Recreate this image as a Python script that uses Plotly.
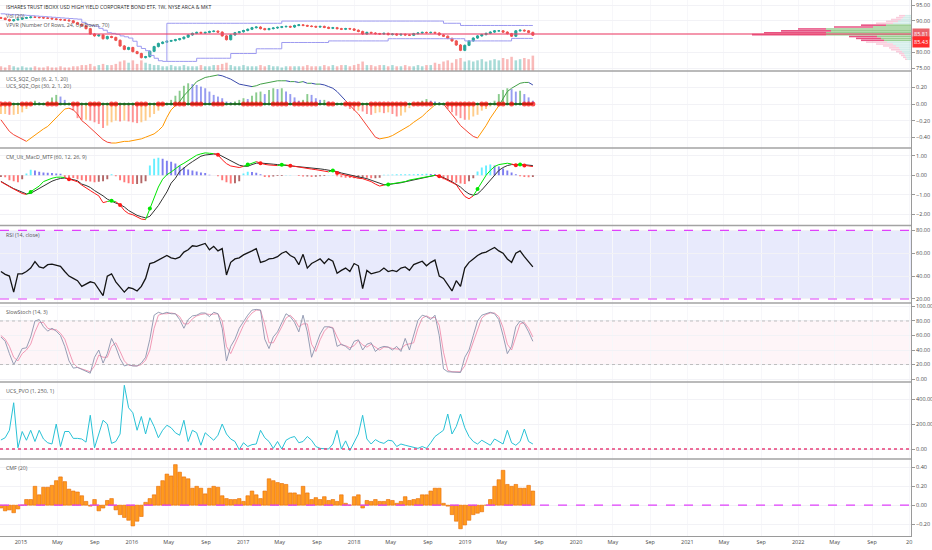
import pandas as pd
import plotly.graph_objects as go

N = 126
dates = pd.date_range("2014-10-27", periods=N, freq="14D")

title_text = "ISHARES TRUST IBOXX USD HIGH YIELD CORPORATE BOND ETF, 1W, NYSE ARCA & MKT"

close = [90.8, 90.4, 90.0, 90.3, 90.5, 90.8, 91.0, 91.2, 91.1, 91.0,
         90.9, 90.8, 90.6, 90.4, 90.3, 90.2, 90.0, 89.4, 88.9, 88.4,
         87.5, 85.8, 85.2, 85.5, 84.3, 85.0, 84.7, 83.8, 82.0, 80.9,
         81.5, 80.2, 79.6, 78.3, 78.6, 80.3, 81.8, 82.8, 83.2, 83.5,
         83.7, 84.0, 84.3, 84.8, 85.5, 86.0, 86.3, 86.1, 86.3, 86.6,
         86.7, 86.4, 85.2, 84.0, 85.5, 86.2, 86.5, 86.9, 87.3, 87.8,
         88.0, 87.5, 87.2, 87.5, 87.7, 87.9, 88.1, 88.2, 88.0, 88.5,
         88.7, 88.5, 88.3, 88.2, 88.0, 88.2, 87.9, 87.6, 87.8, 87.5,
         87.3, 87.5, 87.4, 87.0, 86.6, 85.8, 86.3, 86.1, 85.9, 85.8,
         86.0, 85.6, 85.8, 85.5, 85.7, 85.5, 85.4, 85.9, 86.1, 86.3,
         86.2, 86.3, 86.1, 85.5, 85.1, 84.4, 83.6, 82.3, 80.6, 82.2,
         83.6, 84.5, 85.2, 85.6, 86.0, 86.4, 86.8, 86.8, 86.4, 85.9,
         85.1, 86.8, 87.0, 86.8, 86.3, 85.43]

volume = [4, 3, 5, 4, 3, 4, 3, 3, 4, 3,
          3, 4, 3, 3, 4, 3, 3, 4, 4, 5,
          5, 6, 4, 5, 6, 5, 5, 6, 8, 9,
          7, 9, 6, 9, 7, 6, 5, 5, 4, 4,
          5, 4, 4, 5, 4, 4, 4, 5, 4, 4,
          5, 5, 6, 7, 5, 4, 4, 5, 4, 4,
          4, 5, 4, 5, 4, 4, 3, 4, 4, 4,
          4, 4, 5, 4, 4, 4, 5, 4, 5, 4,
          5, 5, 4, 5, 6, 8, 5, 5, 4, 5,
          5, 4, 5, 4, 4, 5, 4, 4, 5, 4,
          5, 5, 7, 6, 8, 9, 7, 10, 11, 8,
          9, 8, 9, 10, 8, 9, 10, 9, 11, 10,
          12, 9, 10, 11, 10, 13]

poc_price = 85.81
last_price = 85.43

price_ticks = [75, 80, 90, 95]

vp_price = [77.8, 78.4, 79.0, 79.6, 80.2, 80.8, 81.4, 82.0, 82.6, 83.2, 83.8, 84.4,
            85.0, 85.6, 86.2, 86.8, 87.4, 88.0, 88.6, 89.2, 89.8, 90.4, 91.0, 91.6]
vp_up = [4, 5, 6, 7, 9, 11, 12, 15, 18, 24, 27, 30,
         34, 85, 85, 80, 85, 38, 25, 18, 13, 10, 8, 6]
vp_down = [2, 3, 4, 5, 6, 9, 10, 13, 17, 21, 23, 25,
           28, 74, 62, 50, 28, 39, 25, 17, 12, 10, 7, 6]

band_a = [92.3, 92.2, 92.1, 92.0, 91.9, 91.8, 91.8, 91.7, 91.6, 91.5,
          91.4, 91.3, 91.2, 91.1, 91.0, 90.9, 90.8, 90.7, 90.6, 90.5,
          89.5, 88.8, 88.5, 88.3, 87.6, 87.0, 86.2, 86.0, 85.7, 85.2,
          84.9, 84.5, 83.5, 81.9, 81.2, 80.5, 79.0, 78.1, 77.3, 77.1,
          77.1, 77.1, 77.1, 77.1, 77.1, 77.1, 77.1, 78.1, 78.1, 78.1,
          78.1, 78.1, 78.1, 78.1, 78.1, 79.6, 79.6, 79.6, 79.6, 79.6,
          79.6, 81.1, 81.1, 81.1, 81.1, 81.1, 81.1, 83.1, 83.1, 83.1,
          83.1, 83.1, 83.1, 83.1, 83.1, 83.1, 83.1, 83.1, 83.6, 83.6,
          83.6, 83.6, 83.6, 83.6, 83.6, 83.6, 83.6, 83.6, 83.6, 83.6,
          83.6, 83.6, 84.3, 84.3, 84.3, 84.3, 84.3, 84.3, 84.3, 84.3,
          84.3, 84.3, 84.3, 84.3, 84.3, 84.3, 84.3, 84.3, 84.3, 84.3,
          83.6, 83.6, 83.6, 83.6, 83.6, 83.6, 83.6, 83.6, 83.6, 83.6,
          83.6, 84.4, 84.4, 84.4, 84.4, 84.4]
band_b = [None] * 39 + [77.1] + [89.2] * 27 + [89.9] * 38 + [89.2] * 4 + [88.5] * 17

sqz_hist = [-0.12, -0.12, -0.13, -0.13, -0.12, -0.10, -0.06, -0.02, 0.04, 0.02,
            0.01, 0.03, 0.08, 0.11, 0.09, 0.05, 0.00, -0.08, -0.17, -0.19,
            -0.19, -0.20, -0.22, -0.24, -0.29, -0.26, -0.22, -0.20, -0.21, -0.20,
            -0.21, -0.22, -0.23, -0.22, -0.20, -0.16, -0.12, -0.08, -0.03, 0.01,
            0.05, 0.10, 0.16, 0.22, 0.25, 0.24, 0.23, 0.21, 0.19, 0.15,
            0.11, 0.09, 0.07, 0.03, 0.02, 0.03, 0.05, 0.07, 0.06, 0.10,
            0.14, 0.15, 0.12, 0.17, 0.19, 0.18, 0.19, 0.15, 0.12, 0.08,
            0.04, 0.05, 0.12, 0.11, 0.07, 0.05, 0.05, 0.03, 0.01, 0.00,
            0.00, -0.01, -0.06, -0.08, -0.08, -0.09, -0.12, -0.13, -0.11, -0.10,
            -0.11, -0.10, -0.12, -0.15, -0.14, -0.10, -0.05, -0.02, 0.02, 0.04,
            0.06, 0.04, 0.03, 0.02, -0.01, -0.06, -0.10, -0.14, -0.17, -0.19,
            -0.19, -0.15, -0.13, -0.08, -0.06, -0.03, 0.04, 0.12, 0.17, 0.19,
            0.18, 0.15, 0.16, 0.12, 0.08, 0.04]

sqz_line = [-0.19, -0.26, -0.33, -0.37, -0.40, -0.43, -0.45, -0.41, -0.37, -0.33,
            -0.30, -0.27, -0.22, -0.17, -0.11, -0.06, -0.05, -0.07, -0.12, -0.20,
            -0.24, -0.29, -0.33, -0.38, -0.43, -0.46, -0.47, -0.47, -0.46, -0.45,
            -0.45, -0.44, -0.43, -0.42, -0.40, -0.38, -0.36, -0.32, -0.27, -0.16,
            -0.07, -0.02, 0.03, 0.10, 0.15, 0.21, 0.27, 0.30, 0.32, 0.33,
            0.34, 0.35, 0.34, 0.32, 0.30, 0.27, 0.24, 0.23, 0.22, 0.21,
            0.22, 0.24, 0.25, 0.26, 0.27, 0.28, 0.28, 0.28, 0.27, 0.27,
            0.26, 0.27, 0.25, 0.25, 0.24, 0.24, 0.23, 0.21, 0.19, 0.15,
            0.10, 0.04, -0.02, -0.07, -0.12, -0.19, -0.27, -0.34, -0.40, -0.42,
            -0.41, -0.40, -0.38, -0.35, -0.32, -0.30, -0.26, -0.22, -0.19, -0.15,
            -0.10, -0.05, -0.01, 0.01, 0.00, -0.06, -0.12, -0.19, -0.26, -0.31,
            -0.35, -0.39, -0.41, -0.34, -0.26, -0.17, -0.09, -0.02, 0.07, 0.15,
            0.19, 0.22, 0.25, 0.26, 0.26, 0.23]

sqz_on = [1, 1, 1, 0, 0, 1, 1, 1, 0, 0,
          0, 1, 1, 1, 0, 0, 0, 1, 1, 0,
          0, 1, 1, 1, 0, 0, 1, 1, 0, 0,
          0, 0, 1, 1, 1, 0, 0, 1, 1, 0,
          0, 1, 1, 1, 0, 1, 1, 1, 0, 0,
          1, 1, 1, 0, 0, 0, 0, 1, 1, 1,
          1, 1, 0, 0, 1, 1, 1, 1, 0, 1,
          1, 1, 1, 1, 1, 0, 0, 1, 1, 0,
          0, 1, 1, 1, 1, 0, 0, 1, 1, 1,
          1, 1, 1, 1, 1, 1, 0, 1, 1, 1,
          1, 1, 0, 0, 0, 1, 1, 1, 1, 1,
          1, 1, 0, 1, 1, 0, 0, 1, 1, 0,
          1, 0, 0, 1, 1, 1]

macd = [-0.33, -0.47, -0.58, -0.70, -0.80, -0.93, -0.98, -0.85, -0.70, -0.55,
        -0.32, -0.22, -0.15, -0.10, -0.09, -0.12, -0.20, -0.27, -0.33, -0.50,
        -0.62, -0.78, -0.92, -1.05, -1.40, -1.34, -1.30, -1.35, -1.52, -1.80,
        -1.96, -2.02, -2.15, -2.24, -2.27, -1.70, -1.10, -0.60, -0.20, 0.03,
        0.17, 0.35, 0.50, 0.62, 0.75, 0.90, 1.03, 1.10, 1.15, 1.13,
        1.11, 1.05, 0.80, 0.60, 0.48, 0.44, 0.40, 0.46, 0.55, 0.62,
        0.70, 0.62, 0.56, 0.53, 0.51, 0.50, 0.54, 0.53, 0.49, 0.46,
        0.42, 0.38, 0.35, 0.32, 0.29, 0.26, 0.22, 0.18, 0.25, 0.12,
        0.06, 0.00, -0.05, -0.10, -0.15, -0.17, -0.25, -0.32, -0.45, -0.55,
        -0.50, -0.47, -0.42, -0.40, -0.38, -0.32, -0.24, -0.20, -0.15, -0.10,
        -0.07, -0.03, 0.00, -0.05, -0.15, -0.25, -0.35, -0.48, -0.80, -1.08,
        -1.20, -1.05, -0.70, -0.30, 0.00, 0.25, 0.45, 0.55, 0.60, 0.62,
        0.58, 0.52, 0.55, 0.50, 0.48, 0.45]

signal = [-0.31, -0.45, -0.56, -0.68, -0.78, -0.88, -0.95, -0.92, -0.80, -0.68,
          -0.55, -0.40, -0.30, -0.22, -0.16, -0.14, -0.17, -0.22, -0.28, -0.45,
          -0.52, -0.62, -0.78, -0.91, -1.05, -1.22, -1.33, -1.42, -1.50, -1.62,
          -1.80, -1.93, -2.05, -2.12, -2.18, -2.10, -1.85, -1.55, -1.20, -0.85,
          -0.40, -0.15, 0.20, 0.40, 0.55, 0.70, 0.86, 0.98, 1.04, 1.08,
          1.09, 1.09, 0.97, 0.85, 0.72, 0.60, 0.52, 0.47, 0.46, 0.55,
          0.62, 0.63, 0.60, 0.58, 0.57, 0.55, 0.53, 0.52, 0.50, 0.47,
          0.44, 0.42, 0.40, 0.38, 0.35, 0.33, 0.30, 0.26, 0.24, 0.19,
          0.12, 0.08, 0.02, -0.03, -0.08, -0.12, -0.17, -0.25, -0.32, -0.42,
          -0.48, -0.47, -0.45, -0.42, -0.38, -0.33, -0.28, -0.22, -0.17, -0.11,
          -0.07, -0.03, 0.00, -0.02, -0.10, -0.22, -0.33, -0.45, -0.60, -0.80,
          -0.95, -1.02, -0.95, -0.75, -0.50, -0.20, 0.05, 0.25, 0.40, 0.50,
          0.55, 0.56, 0.55, 0.54, 0.52, 0.50]

macd_hist = [-0.08, -0.10, -0.25, -0.30, -0.35, -0.20, 0.10, 0.28, 0.25, 0.18,
             0.15, 0.13, 0.12, 0.10, 0.08, -0.08, -0.12, -0.14, -0.20, -0.25,
             -0.30, -0.32, -0.35, -0.33, -0.30, -0.20, 0.05, -0.05, -0.25, -0.35,
             -0.40, -0.45, -0.45, -0.40, -0.30, 0.50, 0.85, 0.90, 0.85, 0.75,
             0.70, 0.60, 0.50, 0.40, 0.30, 0.25, 0.20, 0.15, 0.12, 0.03,
             0.00, -0.05, -0.25, -0.35, -0.42, -0.40, -0.30, 0.10, 0.18, 0.17,
             0.13, 0.05, -0.08, -0.10, -0.06, -0.04, -0.03, 0.02, 0.02, 0.00,
             -0.04, -0.06, -0.06, -0.08, -0.07, -0.05, -0.04, 0.02, 0.02, -0.05,
             -0.10, -0.12, -0.14, -0.15, -0.15, -0.12, -0.13, -0.15, -0.15, -0.12,
             0.03, 0.03, 0.04, 0.05, 0.05, 0.05, 0.06, 0.06, 0.07, 0.07,
             0.08, 0.07, 0.05, -0.10, -0.20, -0.25, -0.30, -0.38, -0.42, -0.45,
             -0.30, -0.15, 0.20, 0.40, 0.50, 0.55, 0.50, 0.45, 0.35, 0.25,
             0.15, 0.05, -0.05, -0.08, -0.10, -0.08]

rsi = [44, 41.5, 40, 26, 42, 42, 44, 47, 52.6, 48,
       47, 50, 50.5, 49.5, 48.5, 44, 40, 38, 36, 31,
       33, 35, 34, 28, 23, 40, 42, 35, 30, 26,
       30, 29, 27, 31, 38, 51, 52, 54, 55.5, 58,
       56, 55, 56.5, 61, 63, 66.5, 66, 67, 68.5, 63,
       66, 62, 64, 41, 52, 55, 56, 58.5, 60, 62,
       64, 52, 53, 55, 55.5, 57, 60, 61.5, 58, 56,
       50, 59, 47, 51, 53, 55, 51, 55, 53, 42.5,
       45, 47, 44, 51, 49, 29, 45, 42, 43, 44,
       47, 44, 45, 44, 47, 48, 45, 50, 51.5, 53,
       49, 52, 54, 40, 38, 33, 27, 36, 31, 47,
       52, 55, 58, 60, 61, 63, 65, 62, 60, 55,
       52, 60, 62, 57, 52, 48]

stoch_k = [58, 52, 35, 20, 30, 42, 43, 58, 80, 82,
           72, 66, 70, 66, 60, 45, 25, 15, 16, 13,
           10, 8, 30, 40, 22, 35, 56, 44, 28, 18,
           20, 18, 18, 22, 30, 55, 88, 92, 90, 92,
           90, 90, 82, 70, 82, 87, 88, 91, 91, 86,
           92, 90, 70, 25, 45, 55, 70, 80, 88, 95,
           96, 95, 55, 42, 58, 65, 78, 90, 86, 78,
           65, 88, 65, 30, 46, 62, 72, 72, 70, 45,
           48, 45, 40, 52, 54, 40, 48, 50, 38, 43,
           45, 44, 40, 45, 38, 56, 40, 60, 81, 88,
           86, 82, 88, 60, 14, 10, 10, 10, 9, 30,
           40, 60, 80, 88, 90, 92, 90, 82, 60, 35,
           45, 72, 80, 76, 65, 52]

stoch_d = [60, 55, 45, 30, 25, 35, 40, 48, 65, 78,
           78, 70, 68, 68, 63, 55, 38, 22, 16, 14,
           12, 10, 18, 33, 30, 30, 45, 50, 38, 25,
           19, 19, 18, 20, 26, 40, 70, 88, 90, 90,
           91, 90, 86, 76, 76, 83, 87, 89, 90, 89,
           89, 90, 80, 45, 35, 48, 62, 74, 84, 91,
           95, 95, 75, 50, 50, 60, 72, 84, 88, 82,
           72, 76, 76, 48, 38, 54, 66, 72, 71, 58,
           47, 46, 43, 46, 53, 47, 44, 48, 44, 40,
           44, 44, 42, 42, 41, 47, 48, 50, 70, 84,
           87, 84, 85, 74, 37, 12, 10, 10, 10, 18,
           35, 50, 70, 84, 89, 91, 91, 86, 71, 48,
           40, 58, 76, 78, 70, 58]

pvo = [72, 90, 150, 370, 10, 140, 70, 150, 60, 150,
       80, 50, 40, 200, 20, 140, 140, 85, 85, 80,
       55, 270, 10, 120, 230, 200, 45, 60, 120, 510,
       330, 290, 150, 260, 120, 250, 180, 90, 150, 190,
       170, 130, 110, 230, 60, 150, 130, 30, 130, 100,
       70, 110, 200, 120, 80, 60, -5, 50, 20, 35,
       40, 150, 90, 60, 5, 60, 0, 70, 90, 100,
       50, 60, 100, 70, 20, 5, 5, 0, 40, 150,
       0, 65, -13, 60, 120, 270, 80, 40, 75, 55,
       45, 70, 65, 20, 40, 30, 20, 15, 5, 20,
       5, 50, 100, 125, 150, 280, 120, 180, 280, 170,
       100, 60, 40, 70, 50, 30, 80, 60, 40, 150,
       50, 30, 60, 160, 60, 40]

cmf = [-0.03, -0.06, -0.05, -0.08, -0.04, 0.00, 0.06, 0.06, 0.20, 0.11,
       0.19, 0.19, 0.21, 0.26, 0.30, 0.25, 0.17, 0.15, 0.14, 0.10,
       0.04, -0.01, 0.06, -0.06, -0.03, 0.05, 0.07, -0.05, -0.10, -0.13,
       -0.16, -0.22, -0.17, -0.12, 0.03, 0.07, 0.11, 0.20, 0.26, 0.33,
       0.31, 0.43, 0.35, 0.30, 0.28, 0.18, 0.20, 0.18, 0.12, 0.18,
       0.20, 0.19, 0.10, 0.07, 0.06, 0.06, 0.07, 0.04, 0.10, 0.15,
       0.11, 0.07, 0.15, 0.28, 0.26, 0.24, 0.23, 0.22, 0.13, 0.13,
       0.11, 0.20, 0.13, 0.06, 0.08, 0.06, 0.09, 0.05, 0.06, 0.04,
       0.11, 0.02, 0.00, 0.09, 0.11, -0.03, 0.05, 0.04, 0.06, 0.04,
       0.04, 0.06, 0.05, 0.02, 0.04, 0.09, 0.05, 0.06, 0.07, 0.11,
       0.11, 0.15, 0.18, 0.18, 0.02, -0.01, -0.10, -0.17, -0.25, -0.21,
       -0.16, -0.10, -0.085, -0.07, 0.00, 0.06, 0.20, 0.27, 0.37, 0.22,
       0.20, 0.22, 0.18, 0.18, 0.21, 0.15]

x_labels_years = ["2015", "2016", "2017", "2018", "2019", "2020", "2021", "2022"]

# ---------------------------------------------------------------- layout geometry
FIG_W, FIG_H = 932, 550
M_R, M_B = 21, 14
PLOT_H = FIG_H - M_B
panel_px = [(0, 71), (71, 148), (148, 225.5), (225.5, 303), (303, 382), (382, 459), (459, 536)]
dom = [((PLOT_H - b) / PLOT_H, (PLOT_H - t) / PLOT_H) for t, b in panel_px]
dom[0] = (dom[0][0], 1.0)
dom[-1] = (0.0, dom[-1][1])

DAY = 86400000
bw = 14 * DAY

fig = go.Figure()

def add(tr):
    fig.add_trace(tr)

# ---------------------------------------------------------------- panel 1: price
opens = [close[0] + 0.2] + close[:-1]
wick = 0.25
highs = [max(o, c) + wick for o, c in zip(opens, close)]
lows = [min(o, c) - wick for o, c in zip(opens, close)]
vol_colors = ["rgba(38,166,154,0.4)" if c >= o else "rgba(239,83,80,0.4)" for o, c in zip(opens, close)]

add(go.Bar(x=dates, y=volume, marker=dict(color=vol_colors, line=dict(width=0)), width=0.6 * bw,
           xaxis="x", yaxis="y8", showlegend=False, hoverinfo="skip"))

# VPVR value area
total = [u + d for u, d in zip(vp_up, vp_down)]
poc_i = total.index(max(total))
lo, hi = poc_i, poc_i
acc = total[poc_i]
while acc < 0.7 * sum(total):
    below = total[lo - 1] if lo > 0 else -1
    above = total[hi + 1] if hi < len(total) - 1 else -1
    if above >= below:
        hi += 1
        acc += total[hi]
    else:
        lo -= 1
        acc += total[lo]
in_va = [lo <= k <= hi for k in range(len(total))]
up_cols = ["rgba(120,190,110,0.75)" if v else "rgba(128,203,196,0.35)" for v in in_va]
dn_cols = ["rgba(225,40,100,0.8)" if v else "rgba(244,143,177,0.45)" for v in in_va]
add(go.Bar(y=vp_price, x=vp_up, base=[0] * len(vp_up), orientation="h", width=0.5,
           marker=dict(color=up_cols, line=dict(width=0)), xaxis="x2", yaxis="y", showlegend=False, hoverinfo="skip"))
add(go.Bar(y=vp_price, x=vp_down, base=vp_up, orientation="h", width=0.5,
           marker=dict(color=dn_cols, line=dict(width=0)), xaxis="x2", yaxis="y", showlegend=False, hoverinfo="skip"))

add(go.Scatter(x=dates, y=band_a, mode="lines", line=dict(color="#9d9af0", width=1, shape="vh"),
               xaxis="x", yaxis="y", showlegend=False, hoverinfo="skip"))
add(go.Scatter(x=dates, y=band_b, mode="lines", line=dict(color="#9d9af0", width=1, shape="vh"),
               xaxis="x", yaxis="y", showlegend=False, hoverinfo="skip", connectgaps=False))

add(go.Candlestick(x=dates, open=opens, high=highs, low=lows, close=close, xaxis="x", yaxis="y",
                   increasing=dict(line=dict(color="#26a69a", width=1), fillcolor="#26a69a"),
                   decreasing=dict(line=dict(color="#ef5350", width=1), fillcolor="#ef5350"),
                   whiskerwidth=0, showlegend=False, hoverinfo="skip"))


def seg_traces(ys, colors, yaxis, width):
    n = len(ys)
    i = 1
    while i < n:
        c = colors[i]
        j = i
        while j + 1 < n and colors[j + 1] == c:
            j += 1
        add(go.Scatter(x=list(dates[i - 1:j + 1]), y=ys[i - 1:j + 1], mode="lines",
                       line=dict(color=c, width=width), xaxis="x", yaxis=yaxis,
                       showlegend=False, hoverinfo="skip"))
        i = j + 1

# ---------------------------------------------------------------- panel 2: squeeze
hcol = []
for k, v in enumerate(sqz_hist):
    prev = sqz_hist[k - 1] if k > 0 else v
    if v >= 0:
        hcol.append("rgba(76,175,80,0.65)" if v >= prev else "rgba(80,90,230,0.6)")
    else:
        hcol.append("rgba(255,60,60,0.55)" if v < prev else "rgba(255,170,60,0.6)")
add(go.Bar(x=dates, y=sqz_hist, marker=dict(color=hcol, line=dict(width=0)), width=0.45 * bw,
           xaxis="x", yaxis="y2", showlegend=False, hoverinfo="skip"))
lcol = []
for k, v in enumerate(sqz_line):
    prev = sqz_line[k - 1] if k > 0 else v
    if v >= 0:
        lcol.append("#43a047" if v >= prev else "#3949ab")
    else:
        lcol.append("#ff9800" if v >= prev else "#f44336")
seg_traces(sqz_line, lcol, "y2", 1)
add(go.Scatter(x=dates, y=[0] * N, mode="lines", line=dict(color="#2e7d32", width=2),
               xaxis="x", yaxis="y2", showlegend=False, hoverinfo="skip"))
add(go.Scatter(x=dates, y=[0] * N, mode="markers",
               marker=dict(size=[5 if s else 3 for s in sqz_on],
                           color=["#ff0000" if s else "#1b5e20" for s in sqz_on], line=dict(width=0)),
               xaxis="x", yaxis="y2", showlegend=False, hoverinfo="skip"))

# ---------------------------------------------------------------- panel 3: MACD
mcol = []
for k, v in enumerate(macd_hist):
    prev = macd_hist[k - 1] if k > 0 else v
    if v >= 0:
        mcol.append("rgba(0,229,255,0.6)" if v >= prev else "rgba(40,40,230,0.6)")
    else:
        mcol.append("rgba(255,30,30,0.6)" if v < prev else "rgba(128,0,0,0.6)")
add(go.Bar(x=dates, y=macd_hist, marker=dict(color=mcol, line=dict(width=0)), width=0.45 * bw,
           xaxis="x", yaxis="y3", showlegend=False, hoverinfo="skip"))
add(go.Scatter(x=dates, y=signal, mode="lines", line=dict(color="#333333", width=1),
               xaxis="x", yaxis="y3", showlegend=False, hoverinfo="skip"))
ccol = ["#00e600" if m >= s else "#ff1a1a" for m, s in zip(macd, signal)]
seg_traces(macd, ccol, "y3", 1)
cx, cy, cc = [], [], []
for k in range(1, N):
    a = macd[k - 1] >= signal[k - 1]
    b = macd[k] >= signal[k]
    if a != b:
        cx.append(dates[k]); cy.append(macd[k]); cc.append("#00e600" if b else "#ff1a1a")
add(go.Scatter(x=cx, y=cy, mode="markers", marker=dict(size=4, color=cc, line=dict(width=0)),
               xaxis="x", yaxis="y3", showlegend=False, hoverinfo="skip"))

# ---------------------------------------------------------------- panel 4: RSI
add(go.Scatter(x=dates, y=rsi, mode="lines", line=dict(color="#141414", width=1.3),
               xaxis="x", yaxis="y4", showlegend=False, hoverinfo="skip"))

# ---------------------------------------------------------------- panel 5: Stoch
add(go.Scatter(x=dates, y=stoch_d, mode="lines", line=dict(color="#ef8fae", width=0.9),
               xaxis="x", yaxis="y5", showlegend=False, hoverinfo="skip"))
add(go.Scatter(x=dates, y=stoch_k, mode="lines", line=dict(color="#8a93ad", width=0.9),
               xaxis="x", yaxis="y5", showlegend=False, hoverinfo="skip"))

# ---------------------------------------------------------------- panel 6: PVO
add(go.Scatter(x=dates, y=pvo, mode="lines", line=dict(color="#29c2d6", width=1),
               xaxis="x", yaxis="y6", showlegend=False, hoverinfo="skip"))

# ---------------------------------------------------------------- panel 7: CMF
add(go.Bar(x=dates, y=cmf, marker=dict(color="#ff9a1f", line=dict(color="#e86a00", width=0.6)),
           width=0.85 * bw, xaxis="x", yaxis="y7", showlegend=False, hoverinfo="skip"))

# ---------------------------------------------------------------- axes
tick_vals, tick_text = [], []
for y in x_labels_years:
    tick_vals += [f"{y}-01-01", f"{y}-05-01", f"{y}-09-01"]
    tick_text += [y, "May", "Sep"]
tick_vals.append("2023-01-01")
tick_text.append("20")

yfont = dict(size=5.5, color="#4a4a4a", family="Open Sans")
def yax(k, rng, tv, tt=None):
    d = dict(domain=list(dom[k]), anchor="x", side="right", range=rng, tickvals=tv,
             tickformat=".2f", ticks="outside", ticklen=3, tickcolor="#9a9a9a",
             showline=True, linecolor="#9a9a9a", linewidth=1, showgrid=True,
             gridcolor="#f2f2f6", zeroline=False, tickfont=yfont, fixedrange=True)
    if tt is not None:
        d["ticktext"] = tt
    return d

# top price tick is written as an annotation so it is not dropped at the page edge
price_tt = [f"{v:.2f}" if v != max(price_ticks) else " " for v in price_ticks]

layout = dict(
    width=FIG_W, height=FIG_H,
    margin=dict(l=0, r=M_R, t=0, b=M_B),
    paper_bgcolor="white", plot_bgcolor="white",
    font=dict(family="Open Sans", size=6, color="#444"),
    barmode="overlay", showlegend=False,
    xaxis=dict(domain=[0, 1], anchor="y7", type="date", range=["2014-10-24", "2023-01-07"],
               tickvals=tick_vals, ticktext=tick_text, ticks="", tickfont=yfont,
               showgrid=True, gridcolor="#f7f7fa", showline=True, linecolor="#9a9a9a",
               zeroline=False, rangeslider=dict(visible=False), fixedrange=True),
    xaxis2=dict(overlaying="x", anchor="y", range=[911, 0], visible=False, fixedrange=True),
    yaxis=yax(0, [74.05, 96.59], price_ticks, price_tt),
    yaxis2=yax(1, [-0.53, 0.398], [-0.4, -0.2, 0, 0.2]),
    yaxis3=yax(2, [-2.57, 1.40], [-2, -1, 0, 1]),
    yaxis4=yax(3, [16.5, 84.2], [20, 40, 60, 80]),
    yaxis5=yax(4, [-4.1, 104.8], [0, 20, 40, 60, 80, 100]),
    yaxis6=yax(5, [-80, 536], [0, 200, 400]),
    yaxis7=yax(6, [-0.327, 0.49], [-0.2, 0, 0.2, 0.4]),
    yaxis8=dict(overlaying="y", anchor="x", range=[0, 60], visible=False, fixedrange=True),
)
fig.update_layout(**layout)

shapes = []
rsi_levels = [20, 80]
shapes.append(dict(type="rect", xref="paper", x0=0, x1=1, yref="y4", y0=rsi_levels[0], y1=rsi_levels[1],
                   fillcolor="rgba(120,130,240,0.17)", line=dict(width=0), layer="below"))
for lv in rsi_levels:
    shapes.append(dict(type="line", xref="paper", x0=0, x1=1, yref="y4", y0=lv, y1=lv,
                       line=dict(color="#e040fb", width=1.2, dash="dash")))
st_levels = [20, 80]
shapes.append(dict(type="rect", xref="paper", x0=0, x1=1, yref="y5", y0=st_levels[0], y1=st_levels[1],
                   fillcolor="rgba(240,120,160,0.07)", line=dict(width=0), layer="below"))
for lv in st_levels:
    shapes.append(dict(type="line", xref="paper", x0=0, x1=1, yref="y5", y0=lv, y1=lv,
                       line=dict(color="#b0b0b0", width=0.8, dash="dot")))
shapes.append(dict(type="line", xref="paper", x0=0, x1=1, yref="y6", y0=0, y1=0,
                   line=dict(color="#e8407a", width=1.6, dash="dot")))
shapes.append(dict(type="line", xref="paper", x0=0, x1=1, yref="y7", y0=0, y1=0,
                   line=dict(color="#e040fb", width=1.2, dash="dash")))
shapes.append(dict(type="line", xref="paper", x0=0, x1=1, yref="y", y0=poc_price, y1=poc_price,
                   line=dict(color="rgba(235,70,110,0.75)", width=1.5)))
for k in range(len(dom) - 1):
    yb = dom[k][0]
    shapes.append(dict(type="line", xref="paper", x0=0, x1=1, yref="paper", y0=yb, y1=yb,
                       line=dict(color="#a3a3a3", width=1.6)))
fig.update_layout(shapes=shapes)

ann = []
def label(k, text, shift, color="#555555", size=5.3):
    ann.append(dict(xref="paper", yref="paper", x=0.004, y=dom[k][1], xanchor="left", yanchor="middle",
                    yshift=-shift, text=text, showarrow=False, font=dict(size=size, color=color, family="Open Sans")))
label(0, title_text, 7, "#2a2a2a", 5.1)
label(0, "Vol (20)", 15.5)
label(0, "VPVR (Number Of Rows, 24, Up/Down, 70)", 24.5)
label(1, "UCS_SQZ_Opt (6, 2, 1, 20)", 8)
label(1, "UCS_SQZ_Opt (30, 2, 1, 20)", 15)
label(2, "CM_Ult_MacD_MTF (60, 12, 26, 9)", 9)
label(3, "RSI (14, close)", 9)
label(4, "SlowStoch (14, 3)", 8.5)
label(5, "UCS_PVO (1, 250, 1)", 8.5)
label(6, "CMF (20)", 8.7)

ann.append(dict(xref="paper", yref="y", x=1, y=max(price_ticks), xanchor="left", yanchor="middle",
                xshift=4, text=f"{max(price_ticks):.2f}", showarrow=False, borderpad=0,
                font=yfont))
ann.append(dict(xref="paper", yref="y", x=1.001, y=poc_price, xanchor="left", yanchor="middle",
                text=f"{poc_price:.2f}", showarrow=False, bgcolor="#e8636b", borderpad=1,
                font=dict(size=5.5, color="white", family="Open Sans")))
ann.append(dict(xref="paper", yref="y", x=1.001, y=last_price, xanchor="left", yanchor="middle",
                yshift=-7, text=f"{last_price:.2f}", showarrow=False, bgcolor="#ff2b2b", borderpad=1,
                font=dict(size=5.5, color="white", family="Open Sans")))
fig.update_layout(annotations=ann)

fig.write_html("out.html", config={"displayModeBar": False},
               post_script="document.body.style.margin='0';document.body.style.overflow='hidden';")
